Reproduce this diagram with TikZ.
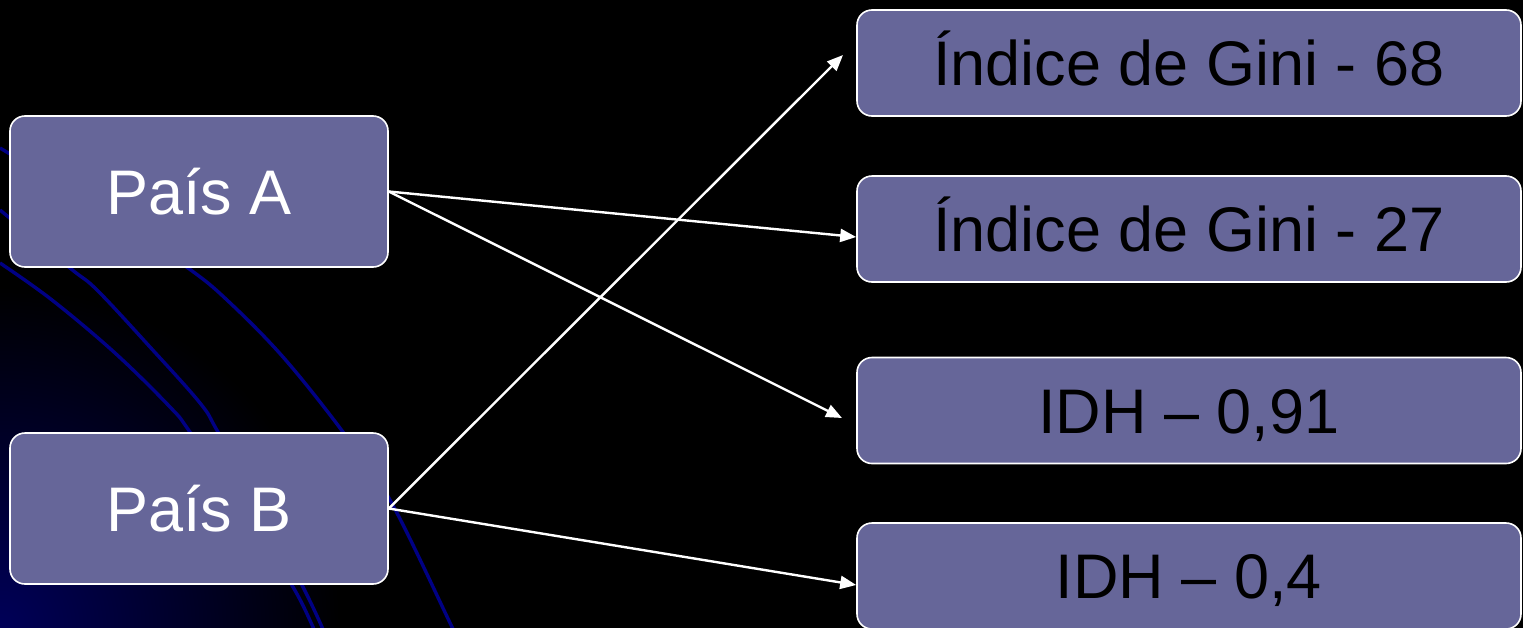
\documentclass[tikz,border=0pt]{standalone}
\usepackage{fontspec}
\setmainfont{Liberation Sans}
\usetikzlibrary{arrows.meta}
\definecolor{boxfill}{HTML}{666699}
\definecolor{swirl}{HTML}{000084}
\definecolor{glow}{HTML}{000058}
\begin{document}
\begin{tikzpicture}[x=1pt,y=-1pt,
  card/.style={rectangle, rounded corners=15pt, fill=boxfill, draw=white,
    line width=1.6pt, inner sep=0pt, text height=45pt, text depth=0pt,
    font=\fontsize{63}{75}\selectfont},
  leftcard/.style={card, minimum width=378pt, minimum height=151pt, text=white},
  rightcard/.style={card, minimum width=664pt, minimum height=106pt, text=black},
  link/.style={draw=white, line width=2.4pt,
    -{Triangle[length=16pt,width=13pt]}},
  swirlline/.style={draw=swirl, line width=3.4pt}]

% picture bounds and black backdrop
\useasboundingbox (0,0) rectangle (1523,627);
\fill[black] (-6,-6) rectangle (1529,633);

% background glow and swirls in the lower left corner
\begin{scope}
  \clip (-6,-6) rectangle (1529,633);
  \shade[inner color=glow, outer color=black] (0,627) circle (340);
  \draw[swirlline] plot[smooth, tension=0.6] coordinates
    {(0,263) (52,300) (115,353) (170,407) (190,432) (250,520) (293,587) (313,627) (318,640)};
  \draw[swirlline] plot[smooth, tension=0.6] coordinates
    {(0,210) (70,268) (97,290) (150,347) (200,403) (218,432) (265,515) (303,587) (322,627) (327,640)};
  \draw[swirlline] plot[smooth, tension=0.6] coordinates
    {(0,148) (110,215) (188,268) (227,300) (283,357) (343,432) (390,500) (452,627) (458,640)};
\end{scope}

% countries
\node[leftcard] (A) at (199,191.5) {País A};
\node[leftcard] (B) at (199,508.5) {País B};

% indicators
\node[rightcard] (G68) at (1189,63) {Índice de Gini - 68};
\node[rightcard] (G27) at (1189,229) {Índice de Gini - 27};
\node[rightcard] (I91) at (1189,410.5) {IDH – 0,91};
\node[rightcard] (I04) at (1189,576) {IDH – 0,4};

% arrow tips that stop short of their boxes
\coordinate (tG68) at (843,55);
\coordinate (tI91) at (842,418);

% connectors
\draw[link] (A.east) -- (G27.west |- 0,237);
\draw[link] (A.east) -- (tI91);
\draw[link] (B.east) -- (tG68);
\draw[link] (B.east) -- (I04.west |- 0,585);
\end{tikzpicture}
\end{document}
